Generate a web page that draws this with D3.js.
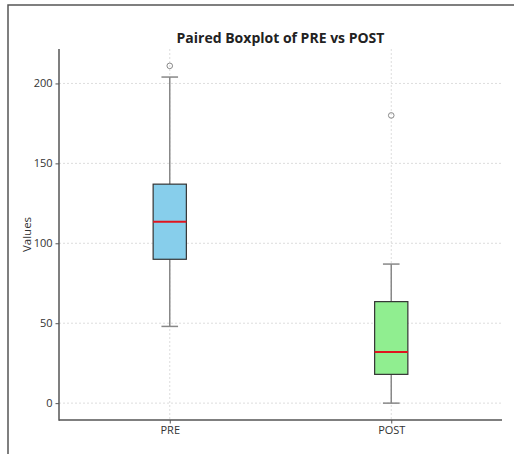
<!DOCTYPE html>
<html><head><meta charset="utf-8">
<script src="https://cdn.jsdelivr.net/npm/d3@7"></script>
<style>body{margin:0;background:#fff}svg{display:block}</style>
</head><body><svg id="c" width="514" height="454"></svg>
<script>
const categories = ["PRE", "POST"];
const whiskerLow = [48, 0];
const q1 = [90, 18];
const median = [113.5, 32];
const q3 = [137, 63.5];
const whiskerHigh = [204, 87];
const outliers = [[211], [180]];
const fills = ["#87CEEB", "#90EE90"];
const yTicks = [0, 50, 100, 150, 200];

(function(){
const svg = d3.select("#c");
const font = "'Open Sans', 'DejaVu Sans', sans-serif";
svg.append("path").attr("d","M8,454V5H514").attr("fill","none").attr("stroke","#555").attr("stroke-width",1.5);

const mLeft = 59, mRight = 502, mTop = 49, mBottom = 420;
const y = d3.scaleLinear().domain([-10.55, 221.55]).range([mBottom, mTop]);
const x = d3.scaleLinear().domain([0.5, 2.5]).range([mLeft, mRight]);
const pos = categories.map((c,i)=>i+1);

const g = svg.append("g");
yTicks.forEach(t=>{
  g.append("line").attr("x1",mLeft).attr("x2",mRight).attr("y1",y(t)).attr("y2",y(t))
   .attr("stroke","#d4d4d4").attr("stroke-width",0.8).attr("stroke-dasharray","2,2");
});
pos.forEach(p=>{
  g.append("line").attr("x1",x(p)).attr("x2",x(p)).attr("y1",mTop).attr("y2",mBottom)
   .attr("stroke","#d4d4d4").attr("stroke-width",0.8).attr("stroke-dasharray","2,2");
});

const bw = 0.15;
categories.forEach((c,i)=>{
  const p = pos[i];
  const xl = x(p-bw/2), xr = x(p+bw/2), xc = x(p);
  const cl = x(p-bw/4), cr = x(p+bw/4);
  const wc = "#888";
  svg.append("line").attr("x1",xc).attr("x2",xc).attr("y1",y(q3[i])).attr("y2",y(whiskerHigh[i])).attr("stroke",wc).attr("stroke-width",1.5);
  svg.append("line").attr("x1",xc).attr("x2",xc).attr("y1",y(q1[i])).attr("y2",y(whiskerLow[i])).attr("stroke",wc).attr("stroke-width",1.5);
  svg.append("line").attr("x1",cl).attr("x2",cr).attr("y1",y(whiskerHigh[i])).attr("y2",y(whiskerHigh[i])).attr("stroke",wc).attr("stroke-width",1.5);
  svg.append("line").attr("x1",cl).attr("x2",cr).attr("y1",y(whiskerLow[i])).attr("y2",y(whiskerLow[i])).attr("stroke",wc).attr("stroke-width",1.5);
  svg.append("rect").attr("x",xl).attr("y",y(q3[i])).attr("width",xr-xl).attr("height",y(q1[i])-y(q3[i]))
    .attr("fill",fills[i]).attr("stroke","#333").attr("stroke-width",1.2);
  svg.append("line").attr("x1",xl).attr("x2",xr).attr("y1",y(median[i])).attr("y2",y(median[i])).attr("stroke","#e0141e").attr("stroke-width",2);
  outliers[i].forEach(o=>{
    svg.append("circle").attr("cx",xc).attr("cy",y(o)).attr("r",2.8).attr("fill","none").attr("stroke","#888").attr("stroke-width",1);
  });
});

const yAxis = svg.append("g").attr("transform",`translate(${mLeft},0)`)
  .call(d3.axisLeft(y).tickValues(yTicks).tickSize(3.5).tickPadding(3));
const xAxis = svg.append("g").attr("transform",`translate(0,${mBottom})`)
  .call(d3.axisBottom(x).tickValues(pos).tickFormat((d,i)=>categories[i]).tickSize(3.5).tickPadding(3));
[yAxis,xAxis].forEach(a=>{
  a.select(".domain").remove();
  a.selectAll(".tick line").attr("stroke","#555");
  a.selectAll(".tick text").attr("fill","#333").style("font-family",font).style("font-size","11px");
});
svg.append("line").attr("x1",mLeft).attr("x2",mLeft).attr("y1",mTop).attr("y2",mBottom+0.75).attr("stroke","#555").attr("stroke-width",1.5);
svg.append("line").attr("x1",mLeft).attr("x2",mRight).attr("y1",mBottom).attr("y2",mBottom).attr("stroke","#555").attr("stroke-width",1.5);

svg.append("text").attr("x",(mLeft+mRight)/2).attr("y",43).attr("text-anchor","middle")
  .style("font-family",font).style("font-weight","bold").style("font-size","14px").attr("fill","#222")
  .text("Paired Boxplot of PRE vs POST");
svg.append("text").attr("transform",`translate(31,${(mTop+mBottom)/2}) rotate(-90)`).attr("text-anchor","middle")
  .style("font-family",font).style("font-size","11.5px").attr("fill","#333").text("Values");
})();
</script></body></html>
